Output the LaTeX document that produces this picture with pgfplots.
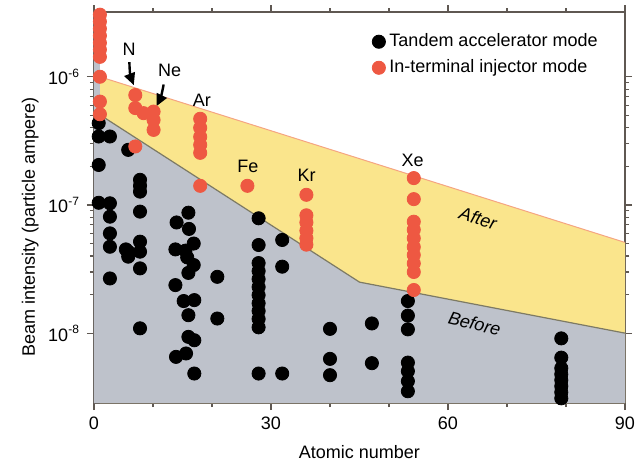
\documentclass[border=0pt]{standalone}
\usepackage{fontspec}
\setmainfont{Liberation Sans}
\usepackage{pgfplots}
\pgfplotsset{compat=1.18}
\usetikzlibrary{arrows.meta}
\definecolor{yel}{RGB}{250,229,140}
\definecolor{grayf}{RGB}{190,194,203}
\definecolor{redm}{RGB}{238,88,66}
\definecolor{axc}{RGB}{95,88,82}
\definecolor{edgeb}{RGB}{125,122,100}
\definecolor{edgea}{RGB}{245,165,130}

\begin{document}
\begin{tikzpicture}
\begin{axis}[name=ax, width=265.5pt, height=195.5pt, scale only axis,
  xmin=0, xmax=90, ymode=log, ymin=2.85e-9, ymax=3.2e-6,
  xtick={0,30,60,90}, xticklabels={0,30,60,90}, minor x tick num=2,
  ytick={1e-8,1e-7,1e-6},
  yticklabels={10\textsuperscript{-8},10\textsuperscript{-7},10\textsuperscript{-6}},
  tick align=outside, major tick length=3.5pt, minor tick length=2pt,
  axis line style={axc, line width=0.8pt}, tick style={axc, line width=0.6pt},
  every tick label/.append style={font=\fontsize{9}{11}\selectfont},
  label style={font=\fontsize{9}{11}\selectfont},
  xlabel={Atomic number}, ylabel={Beam intensity (particle ampere)},
  xlabel style={at={(axis description cs:0.5,-0.125)}, anchor=center},
  ylabel style={at={(axis description cs:-0.12,0.45)}, anchor=center},
  legend style={at={(0.512,0.966)}, anchor=north west, draw=none, fill=none,
    font=\fontsize{9}{11}\selectfont, row sep=1pt},
  legend cell align=left,
]
% regions
\addplot[fill=yel, draw=none, forget plot] coordinates {(1,1e-6) (90,5.1e-8) (90,2.85e-9) (1,2.85e-9)} -- cycle;
\addplot[fill=grayf, draw=none, forget plot] coordinates {(0,3.2e-6) (1,3.2e-6) (1,5.05e-7) (45,2.5e-8) (90,1e-8) (90,2.85e-9) (0,2.85e-9)} -- cycle;
\addplot[edgea, line width=0.5pt, forget plot] coordinates {(1,1e-6) (90,5.1e-8)};
\addplot[edgeb, line width=0.6pt, forget plot] coordinates {(1,5.05e-7) (45,2.5e-8) (90,1e-8)};

% tandem accelerator mode
\addplot[only marks, black, mark=*, mark size=3.3pt, mark options={fill=black}] coordinates {
(0.8,4.35e-7) (0.8,3.42e-7) (0.8,2.05e-7) (0.8,1.04e-7)
(2.7,3.42e-7) (2.7,1.03e-7) (2.7,8.1e-8) (2.7,6.0e-8) (2.7,4.72e-8) (2.7,2.67e-8)
(5.8,2.69e-7) (5.4,4.5e-8) (5.8,4.32e-8) (5.8,3.95e-8)
(7.8,1.57e-7) (7.8,1.41e-7) (7.8,1.27e-7) (7.8,8.87e-8) (7.8,5.17e-8) (7.8,4.32e-8) (7.8,3.2e-8) (7.8,1.09e-8)
(14,7.3e-8) (16,8.7e-8) (16.1,6.5e-8) (13.8,4.5e-8) (15.5,4.4e-8) (15.8,3.9e-8)
(16.9,5.0e-8) (16.9,3.4e-8) (16,2.95e-8) (13.8,2.37e-8) (15.2,1.78e-8) (17,1.81e-8)
(16,1.38e-8) (16,9.35e-9) (17,8.8e-9) (13.9,6.53e-9) (15.6,6.94e-9) (17,4.84e-9)
(20.9,2.75e-8) (20.9,1.30e-8)
(27.9,7.87e-8) (27.9,4.87e-8) (27.9,3.52e-8) (27.9,3.05e-8) (27.9,2.64e-8) (27.9,2.29e-8)
(27.9,1.98e-8) (27.9,1.71e-8) (27.9,1.49e-8) (27.9,1.29e-8) (27.9,1.11e-8) (27.9,4.84e-9)
(31.9,5.33e-8) (31.9,3.3e-8) (31.9,4.84e-9)
(40,1.08e-8) (40,6.3e-9) (40,4.7e-9)
(47.1,1.19e-8) (47.1,5.83e-9)
(53.2,1.78e-8) (53.2,1.37e-8) (53.2,1.07e-8) (53.2,5.89e-9) (53.2,5.05e-9) (53.2,4.22e-9) (53.2,3.52e-9)
(79.2,9.1e-9) (79.2,6.44e-9) (79.2,5.33e-9) (79.2,4.78e-9) (79.2,4.3e-9) (79.2,3.86e-9) (79.2,3.46e-9) (79.2,3.1e-9)
};
\addlegendentry{Tandem accelerator mode}

% in-terminal injector mode
\addplot[only marks, redm, mark=*, mark size=3.3pt, mark options={fill=redm}] coordinates {
(1,3.05e-6) (1,2.69e-6) (1,2.37e-6) (1,2.09e-6) (1,1.84e-6) (1,1.63e-6) (1,1.43e-6) (1,1.0e-6) (1,6.4e-7) (1,5.1e-7)
(7,7.2e-7) (7,5.7e-7) (7,2.86e-7)
(8.4,5.2e-7)
(10.1,5.35e-7) (10.1,4.6e-7) (10.1,3.85e-7)
(18,4.7e-7) (18,4.0e-7) (18,3.4e-7) (18,2.94e-7) (18,2.55e-7) (18,1.41e-7)
(26,1.41e-7)
(36,1.2e-7) (36,8.3e-8) (36,7.3e-8) (36,6.3e-8) (36,5.5e-8) (36,4.9e-8)
(54.2,1.62e-7) (54.2,1.11e-7) (54.2,7.4e-8) (54.2,6.4e-8) (54.2,5.5e-8) (54.2,4.7e-8)
(54.2,4.07e-8) (54.2,3.5e-8) (54.2,3.0e-8) (54.2,2.17e-8)
};
\addlegendentry{In-terminal injector mode}

% annotations
\begin{scope}[font=\fontsize{9}{11}\selectfont]
\node at (axis cs:5.95,1.63e-6) {N};
\node at (axis cs:12.8,1.13e-6) {Ne};
\node at (axis cs:18.3,6.6e-7) {Ar};
\node at (axis cs:26.1,2.0e-7) {Fe};
\node at (axis cs:36.05,1.71e-7) {Kr};
\node at (axis cs:54,2.22e-7) {Xe};
\node[rotate=-17, font=\fontsize{9}{11}\selectfont\itshape] at (axis cs:65.1,7.87e-8) {After};
\node[rotate=-14, font=\fontsize{9}{11}\selectfont\itshape] at (axis cs:64.5,1.19e-8) {Before};
\end{scope}
\draw[line width=1.2pt, -{Triangle[length=6pt,width=5.5pt]}] (axis cs:6.0,1.3e-6) to[bend right=10] (axis cs:6.75,8.6e-7);
\draw[line width=1.2pt, -{Triangle[length=6pt,width=5.5pt]}] (axis cs:11.8,8.7e-7) to[bend left=8] (axis cs:10.6,5.9e-7);
\end{axis}
\path ([xshift=-47pt,yshift=-31.5pt]ax.south west) rectangle ([xshift=9pt,yshift=6pt]ax.north east);
\end{tikzpicture}
\end{document}
